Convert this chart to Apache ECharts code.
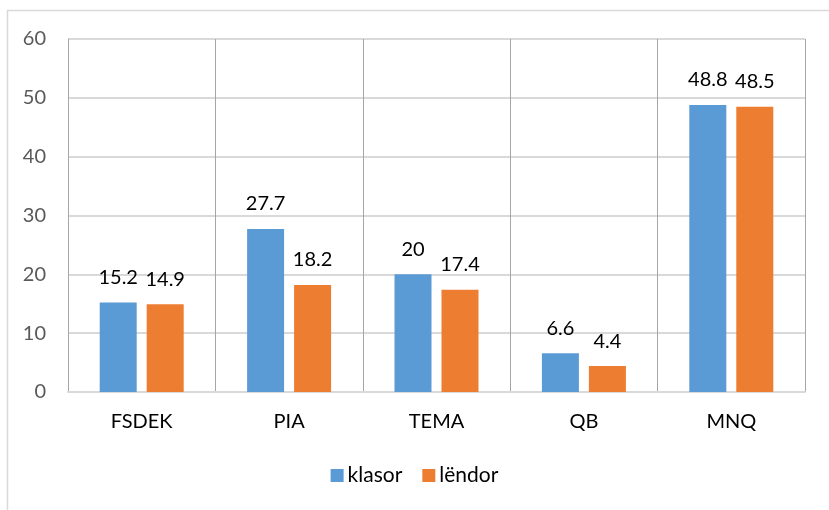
<!DOCTYPE html>
<html>
<head>
<meta charset="utf-8">
<script src="https://cdn.jsdelivr.net/npm/echarts@6/dist/echarts.min.js"></script>
<style>
  html, body { margin: 0; padding: 0; background: #fff; }
  #chart { width: 829px; height: 510px; }
</style>
</head>
<body>
<div id="chart"></div>
<script>
// categories and values
var categories = ['FSDEK', 'PIA', 'TEMA', 'QB', 'MNQ'];
var klasor = [15.2, 27.7, 20, 6.6, 48.8];
var lendor = [14.9, 18.2, 17.4, 4.4, 48.5];
var seriesNames = ['klasor', 'lëndor'];

var chart = echarts.init(document.getElementById('chart'));
var font = 'Lato';

var labelStyle = {
    show: true,
    position: 'top',
    distance: 15,
    color: '#000',
    fontSize: 20,
    fontFamily: font
};

var option = {
    backgroundColor: '#fff',
    color: ['#5B9BD5', '#ED7D31'],
    animation: false,
    graphic: [{
        type: 'rect',
        shape: { x: 7.5, y: 10.5, width: 900, height: 600 },
        style: { fill: 'none', stroke: '#d9d9d9', lineWidth: 1.5 },
        silent: true
    }],
    grid: {
        left: 68,
        right: 24,
        top: 39,
        bottom: 118
    },
    legend: {
        data: seriesNames,
        bottom: 19,
        left: 'center',
        itemWidth: 13,
        itemHeight: 13,
        itemGap: 20,
        icon: 'rect',
        textStyle: { color: '#000', fontSize: 21, fontFamily: font, padding: [0, 0, 0, -1] }
    },
    xAxis: {
        type: 'category',
        data: categories,
        boundaryGap: true,
        axisLine: { lineStyle: { color: '#d9d9d9', width: 2 } },
        axisTick: { show: false },
        axisLabel: { color: '#000', fontSize: 20, fontFamily: font, margin: 20 },
        splitLine: { show: true, lineStyle: { color: '#a6a6a6', width: 1 } }
    },
    yAxis: {
        type: 'value',
        min: 0,
        max: 60,
        interval: 10,
        axisLine: { show: true, lineStyle: { color: '#a6a6a6', width: 1 } },
        axisTick: { show: false },
        axisLabel: { color: '#595959', fontSize: 20, fontFamily: font, margin: 22 },
        splitLine: { show: true, lineStyle: { color: '#d9d9d9', width: 2 } }
    },
    series: [
        {
            name: seriesNames[0],
            type: 'bar',
            data: klasor,
            barWidth: 37,
            barGap: '27%',
            label: labelStyle
        },
        {
            name: seriesNames[1],
            type: 'bar',
            data: lendor,
            barWidth: 37,
            label: labelStyle
        }
    ]
};

chart.setOption(option);
</script>
</body>
</html>
